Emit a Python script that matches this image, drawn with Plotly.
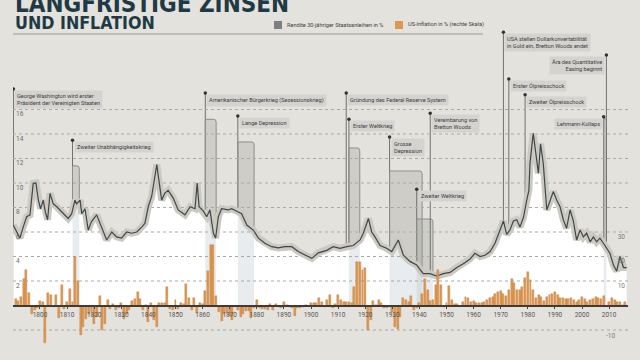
import numpy as np
import plotly.graph_objects as go

# ---------------- data ----------------
yield_years = [1790.1, 1792.6, 1793.8, 1795.1, 1796.3, 1797.5, 1798.5, 1799.4, 1800.2, 1801.2, 1802.0, 1802.8,
               1803.7, 1804.9, 1806.2, 1807.4, 1808.6, 1810.4, 1811.7, 1812.9, 1813.5, 1814.8, 1815.4, 1816.6,
               1817.8, 1819.0, 1820.9, 1822.8, 1824.6, 1826.5, 1828.3, 1830.1, 1832.0, 1833.8, 1835.7, 1837.5,
               1838.7, 1840.0, 1841.2, 1842.0, 1843.1, 1843.7, 1844.9, 1846.0, 1847.3, 1849.2, 1851.0, 1853.5,
               1855.4, 1857.2, 1858.0, 1858.7, 1860.3, 1861.5, 1862.7, 1864.0, 1864.8, 1865.8, 1867.0, 1869.5,
               1870.7, 1872.6, 1874.4, 1876.3, 1878.7, 1880.6, 1883.0, 1885.5, 1887.9, 1890.4, 1892.9, 1895.3,
               1897.8, 1900.3, 1902.7, 1905.8, 1908.2, 1910.7, 1913.2, 1915.6, 1918.1, 1919.3, 1921.2, 1922.4,
               1923.6, 1925.5, 1927.9, 1929.8, 1932.2, 1934.1, 1936.5, 1939.0, 1941.4, 1943.9, 1946.4, 1948.8,
               1951.3, 1953.8, 1956.2, 1958.7, 1960.5, 1962.4, 1964.2, 1966.1, 1967.9, 1969.2, 1970.4, 1971.0,
               1972.2, 1973.4, 1974.7, 1975.9, 1977.1, 1978.4, 1979.6, 1980.4, 1980.8, 1982.0, 1982.8, 1983.9,
               1984.7, 1985.7, 1987.0, 1988.2, 1989.4, 1990.7, 1991.9, 1993.1, 1994.3, 1995.6, 1996.8, 1998.0,
               1999.3, 2000.5, 2001.7, 2003.0, 2004.2, 2005.4, 2006.6, 2007.9, 2009.1, 2010.3, 2011.6, 2012.8,
               2014.0, 2015.3, 2016.5]
yield_values = [6.57, 5.5, 6.4, 7.25, 7.4, 9.97, 10.0, 8.6, 7.9, 8.6, 7.6, 7.0,
                9.15, 8.3, 8.06, 7.8, 7.5, 7.1, 7.5, 8.6, 8.3, 8.6, 7.5, 7.9,
                6.16, 6.85, 7.4, 6.4, 5.35, 6.0, 5.6, 5.5, 6.0, 5.9, 6.0, 6.4,
                6.7, 8.1, 8.9, 10.0, 11.5, 10.5, 8.6, 9.15, 9.4, 8.75, 7.8, 7.4,
                8.06, 7.9, 10.0, 8.06, 7.7, 7.25, 7.8, 5.9, 5.5, 7.25, 7.9, 7.8,
                7.9, 7.7, 7.5, 6.57, 6.16, 5.5, 5.08, 4.8, 4.7, 4.8, 4.8, 4.4,
                4.1, 3.85, 4.3, 4.5, 4.8, 4.67, 4.8, 4.9, 5.35, 5.9, 7.1, 6.0,
                5.6, 4.9, 4.67, 4.4, 5.35, 4.1, 3.6, 3.3, 2.6, 2.6, 2.4, 2.6,
                2.7, 3.1, 3.4, 3.8, 4.26, 4.0, 4.1, 4.4, 5.08, 5.9, 6.7, 6.9,
                5.8, 6.16, 6.9, 7.0, 6.4, 7.2, 8.6, 9.4, 11.6, 14.05, 12.7, 10.8,
                13.2, 11.6, 7.8, 8.6, 9.3, 8.6, 8.06, 7.0, 6.3, 7.8, 6.9, 5.35,
                6.16, 5.6, 5.9, 5.2, 5.6, 5.2, 5.5, 5.08, 4.7, 4.26, 3.3, 2.8,
                4.0, 3.1, 3.1]

infl_years = list(range(1791, 2017))
infl_values = [2.7, 1.8, 3.4, 10.9, 14.3, 5.3, -3.4, -2.0, -1.1, 2.0,          # 1791-1800
               1.4, -15.4, 5.3, 4.4, -0.7, 4.1, -5.0, 8.4, -1.4, 1.4,          # 1801-1810
               6.8, 1.4, 19.7, 9.9, -12.0, -8.6, -5.4, -3.4, -2.7, -7.5,       # 1811-1820
               -4.8, 3.7, -10.2, -7.5, 2.4, -1.4, 0.7, -2.0, -1.0, 1.0,        # 1821-1830
               -5.7, -3.4, -1.8, 2.0, 2.7, 5.7, 2.6, -2.0, 0.4, -6.8,          # 1831-1840
               1.1, -6.1, -8.8, 1.1, 1.1, 1.1, 7.5, -1.4, -2.0, 2.3,           # 1841-1850
               -1.4, 1.1, 0.7, 8.6, 3.0, -1.8, 3.0, -3.1, 1.1, 0.7,            # 1851-1860
               6.1, 14.0, 24.5, 24.8, 3.7, -2.7, -6.5, -3.5, -3.0, -4.2,       # 1861-1870
               -6.1, -0.5, -1.9, -4.8, -3.4, -2.2, -2.1, -4.9, -1.0, 2.4,      # 1871-1880
               -1.2, -1.4, -1.6, -2.0, 0.7, -2.0, 0.5, -0.5, -1.0, 1.6,        # 1881-1890
               0.3, -0.5, -1.0, -4.1, -1.0, -1.0, -0.5, 0.3, -0.3, 1.1,        # 1891-1900
               1.1, 1.1, 2.9, 1.4, -0.7, 2.3, 4.2, -1.1, 0.7, 4.4,             # 1901-1910
               2.4, 1.6, 1.4, 1.4, 1.0, 7.7, 17.6, 17.9, 14.5, 15.4,           # 1911-1920
               -10.2, -6.1, 1.8, 0.4, 2.3, 1.1, -1.0, -1.0, 0.0, -2.5,         # 1921-1930
               -8.8, -9.5, -4.8, 3.0, 2.4, 1.6, 3.7, -1.8, -1.0, 1.1,          # 1931-1940
               4.8, 10.9, 6.3, 1.7, 2.3, 8.3, 14.4, 8.3, -0.8, 1.2,            # 1941-1950
               7.9, 2.2, 0.8, 0.8, -0.4, 1.5, 3.5, 3.0, 1.4, 1.9,              # 1951-1960
               1.1, 1.2, 1.2, 1.5, 2.2, 3.1, 3.5, 4.9, 5.6, 5.9,               # 1961-1970
               4.6, 3.9, 6.3, 11.0, 9.3, 6.3, 6.5, 7.6, 11.3, 13.5,            # 1971-1980
               10.3, 6.2, 3.2, 4.3, 3.6, 1.9, 3.6, 4.1, 4.8, 5.4,              # 1981-1990
               4.2, 3.0, 3.0, 2.6, 2.8, 3.0, 2.3, 1.6, 2.2, 3.4,               # 1991-2000
               2.8, 1.6, 2.3, 2.7, 3.4, 3.2, 2.8, 3.8, -0.4, 1.6,              # 2001-2010
               3.2, 2.1, 1.5, 1.6, 0.1, 1.3]                                   # 2011-2016

decade_ticks = list(range(1800, 2011, 10))
left_ticks = [-2, 2, 4, 6, 8, 10, 12, 14, 16]
right_ticks = [30, 20, 10]
right_neg_tick = -10

event_years = [1790.2, 1812, 1861, 1873, 1913, 1914, 1929, 1939, 1944, 1971, 1973, 1979, 2008, 2009]
event_ends = [None, 1814.5, 1865, 1879, None, 1918, 1941, 1945, None, None, None, None, 2009, None]
event_labels = ["George Washington wird erster<br>Präsident der Vereinigten Staaten",
                "Zweiter Unabhängigkeitskrieg",
                "Amerikanischer Bürgerkrieg (Sezessionskrieg)",
                "Lange Depression",
                "Gründung des Federal Reserve System",
                "Erster Weltkrieg",
                "Grosse<br>Depression",
                "Zweiter Weltkrieg",
                "Vereinbarung von<br>Bretton Woods",
                "USA stellen Dollarkonvertabilität<br>in Gold ein, Bretton Woods endet",
                "Erster Ölpreisschock",
                "Zweiter Ölpreisschock",
                "Lehmann-Kollaps",
                "Ära des Quantitative<br>Easing beginnt"]

# ---------------- layout constants ----------------
W, H = 640, 360
BG = "#e4e2dd"
X_RANGE = [1790.04, 2016.97]
Y_RANGE = [-4.449, 24.939]
Y2_RANGE = [Y_RANGE[0] * 5, Y_RANGE[1] * 5]
X_DOMAIN = [13 / W, 628 / W]
event_tops = [17.67, 13.5, 17.35, 15.47, 17.35, 15.2, 13.76, 9.5, 15.7, 22.3, 18.5, 17.2, 15.4, 20.45]
box_tops = [None, 11.4, 15.2, 13.35, None, 12.86, 10.98, 7.06, None, None, None, None, 15.3, None]
label_side = ["r"] * 12 + ["l", "l"]

NARROW = "Liberation Sans Narrow, Roboto, sans-serif"
LABEL_FONT = dict(family=NARROW, size=5.6, color="#3d3d3d")

fig = go.Figure()

yy = np.array(yield_years)
yv = np.array(yield_values)

# white area under the yield curve
fig.add_trace(go.Scatter(x=yy, y=yv, mode="lines", line=dict(width=0), fill="tozeroy",
                         fillcolor="white", hoverinfo="skip", showlegend=False))

# light bands under curve for event periods
for s, e in zip(event_years, event_ends):
    if e is None:
        continue
    inside = (yy > s) & (yy < e)
    bx = np.concatenate([[s], yy[inside], [e]])
    by = np.interp(bx, yy, yv)
    fig.add_trace(go.Scatter(x=bx, y=by, mode="lines", line=dict(width=0), fill="tozeroy",
                             fillcolor="rgba(185,197,202,0.32)", hoverinfo="skip", showlegend=False))

# dotted grid lines (drawn above the white area)
gx, gy = [], []
for t in left_ticks:
    gx += [X_RANGE[0], X_RANGE[1], None]
    gy += [t, t, None]
fig.add_trace(go.Scatter(x=gx, y=gy, mode="lines", line=dict(color="#a9a9a6", width=1, dash="dot"),
                         hoverinfo="skip", showlegend=False))

# glow + line
fig.add_trace(go.Scatter(x=yy, y=yv, mode="lines", line=dict(color="#cdc9c1", width=7),
                         hoverinfo="skip", showlegend=False))
fig.add_trace(go.Scatter(x=yy, y=yv, mode="lines", line=dict(color="#3a494e", width=1.2),
                         hoverinfo="skip", showlegend=False))

# event dots
fig.add_trace(go.Scatter(x=event_years, y=event_tops, mode="markers",
                         marker=dict(size=3.5, color="#333"), hoverinfo="skip", showlegend=False))

# inflation bars (right axis)
fig.add_trace(go.Bar(x=infl_years, y=infl_values, yaxis="y2", width=0.72,
                     marker=dict(color="#dc9852", line=dict(color="#c27a36", width=0.4)),
                     hoverinfo="skip", showlegend=False))

shapes = []
annotations = []
for yr, end, top, btop, lab, side in zip(event_years, event_ends, event_tops, box_tops, event_labels, label_side):
    shapes.append(dict(type="line", xref="x", yref="y", x0=yr, x1=yr, y0=0, y1=top,
                       line=dict(color="#6f7170", width=1), layer="below"))
    if end is not None:
        path = (f"M {yr},0 L {yr},{btop} L {end - 0.9},{btop} Q {end},{btop} {end},{btop - 0.22} "
                f"L {end},0 Z")
        shapes.append(dict(type="path", xref="x", yref="y", path=path,
                           fillcolor="rgba(150,150,146,0.28)", line=dict(color="#8d8e8c", width=1),
                           layer="below"))
    annotations.append(dict(x=yr, y=top, xref="x", yref="y", text=lab, showarrow=False,
                            xanchor="left" if side == "r" else "right", yanchor="top",
                            align="left" if side == "r" else "right",
                            xshift=1 if side == "r" else -1, yshift=-1,
                            bgcolor="#d4d3cf", borderpad=2, font=LABEL_FONT))

# right-axis negative label (inside labels below the baseline are hidden by plotly)
annotations.append(dict(x=617 / W, y=right_neg_tick, xref="paper", yref="y2", xanchor="right", yanchor="top",
                        text=str(right_neg_tick), showarrow=False,
                        font=dict(family=NARROW, size=6.5, color="#7a7a7a")))

# title
TITLE_FONT = "Liberation Sans Narrow, DejaVu Sans Condensed, sans-serif"
annotations.append(dict(x=13 / W, y=1 - 20 / H, xref="paper", yref="paper", xanchor="left", yanchor="bottom",
                        text="<b>LANGFRISTIGE ZINSEN</b>", showarrow=False,
                        font=dict(family=TITLE_FONT, size=24, color="#1f3a44")))
annotations.append(dict(x=13 / W, y=1 - 35.5 / H, xref="paper", yref="paper", xanchor="left", yanchor="bottom",
                        text="<b>UND INFLATION</b>", showarrow=False,
                        font=dict(family=TITLE_FONT, size=17.7, color="#1f3a44")))
# legend
shapes.append(dict(type="rect", xref="paper", yref="paper", x0=274 / W, x1=282 / W,
                   y0=1 - 29 / H, y1=1 - 21 / H, fillcolor="#7c7e80", line=dict(width=0)))
shapes.append(dict(type="rect", xref="paper", yref="paper", x0=395 / W, x1=403 / W,
                   y0=1 - 29 / H, y1=1 - 21 / H, fillcolor="#dc9852", line=dict(width=0)))
annotations.append(dict(x=285 / W, y=1 - 25 / H, xref="paper", yref="paper", xanchor="left", yanchor="middle",
                        text="Rendite 30-jähriger Staatsanleihen in %", showarrow=False, font=LABEL_FONT))
annotations.append(dict(x=406 / W, y=1 - 25 / H, xref="paper", yref="paper", xanchor="left", yanchor="middle",
                        text="US-Inflation in % (rechte Skala)", showarrow=False, font=LABEL_FONT))
shapes.append(dict(type="line", xref="paper", yref="paper", x0=13 / W, x1=483 / W,
                   y0=1 - 34 / H, y1=1 - 34 / H, line=dict(color="#9b9b99", width=1)))

fig.update_layout(
    width=W, height=H, margin=dict(l=0, r=0, t=0, b=0),
    paper_bgcolor=BG, plot_bgcolor=BG, bargap=0,
    shapes=shapes, annotations=annotations, showlegend=False,
    xaxis=dict(domain=X_DOMAIN, range=X_RANGE, anchor="free", position=(H - 305.5) / H,
               tickvals=decade_ticks, ticks="outside", ticklen=3, tickcolor="#444",
               tickfont=dict(family=NARROW, size=6.5, color="#555"),
               showline=True, linecolor="#3b3b3b", linewidth=1.5, showgrid=False, zeroline=False,
               layer="above traces", fixedrange=True),
    yaxis=dict(domain=[0, 1], range=Y_RANGE, anchor="x", tickvals=left_ticks,
               ticktext=["" if t <= 0 else str(t) for t in left_ticks],
               ticklabelposition="inside bottom", ticks="", showgrid=False, zeroline=False,
               tickfont=dict(family=NARROW, size=6.5, color="#6a6a6a"),
               showline=False, fixedrange=True),
    yaxis2=dict(overlaying="y", side="right", anchor="x", range=Y2_RANGE, tickvals=right_ticks,
                ticklabelposition="inside bottom", ticks="", showgrid=False, zeroline=False,
                tickfont=dict(family=NARROW, size=6.5, color="#7a7a7a"),
                showline=False, fixedrange=True),
)

fig.write_html("out.html", config={"displayModeBar": False},
               post_script="document.body.style.margin='0px';")
